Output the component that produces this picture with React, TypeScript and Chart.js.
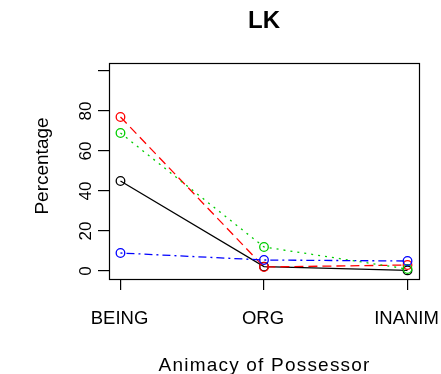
import React, { useEffect, useRef } from "react";
import { Chart, registerables } from "chart.js";

Chart.register(...registerables);

const categories = ["BEING", "ORG", "INANIM"];
const blackSeries = [45, 2.2, 0.3];
const redSeries = [77, 2, 3];
const greenSeries = [69, 12, 1];
const blueSeries = [9, 5.5, 5];
const yTickValues = [0, 20, 40, 60, 80, 100];
const yTickLabels = ["0", "20", "40", "60", "80", ""];
const titleText = "LK";
const xTitle = "Animacy of Possessor";
const yTitle = "Percentage";

const FONT = "'Liberation Sans', Arial, Helvetica, sans-serif";

const textPlugin = {
  id: "rText",
  afterDraw(chart: any) {
    const ctx = chart.ctx as CanvasRenderingContext2D;
    const area = chart.chartArea;
    const xs = chart.scales.x;
    const ys = chart.scales.y;
    ctx.save();
    // box
    ctx.strokeStyle = "#000";
    ctx.lineWidth = 1.2;
    ctx.strokeRect(Math.round(area.left) + 0.5, Math.round(area.top) + 0.5, Math.round(area.right - area.left), Math.round(area.bottom - area.top));
    ctx.fillStyle = "#000";
    // title
    ctx.font = `bold 24px ${FONT}`;
    ctx.textAlign = "center";
    ctx.textBaseline = "alphabetic";
    (ctx as any).letterSpacing = "0px";
    const cx = (area.left + area.right) / 2;
    ctx.fillText(titleText, cx, 28);
    // x tick labels
    ctx.font = `18.5px ${FONT}`;
    categories.forEach((c, i) => {
      ctx.fillText(c, xs.getPixelForValue(i + 1) - 1, 324);
    });
    // x title
    ctx.font = `19px ${FONT}`;
    (ctx as any).letterSpacing = "1.2px";
    ctx.fillText(xTitle, cx + 0.6, 371);
    // y tick labels
    (ctx as any).letterSpacing = "0px";
    ctx.font = `17px ${FONT}`;
    yTickValues.forEach((v, i) => {
      const py = ys.getPixelForValue(v);
      ctx.save();
      ctx.translate(91, py);
      ctx.rotate(-Math.PI / 2);
      ctx.fillText(yTickLabels[i], 0, 0);
      ctx.restore();
    });
    // y title
    ctx.font = `19px ${FONT}`;
    ctx.save();
    ctx.translate(47.5, 166);
    ctx.rotate(-Math.PI / 2);
    ctx.fillText(yTitle, 0, 0);
    ctx.restore();
    ctx.restore();
  },
};

export default function App() {
  const ref = useRef<HTMLCanvasElement | null>(null);
  useEffect(() => {
    document.body.style.margin = "0";
    const canvas = ref.current;
    if (!canvas) return;
    const mk = (arr: number[]) => arr.map((v, i) => ({ x: i + 1, y: v }));
    const ds = (label: string, arr: number[], color: string, dash: number[], order: number) => ({
      label,
      data: mk(arr),
      borderColor: color,
      borderWidth: 1.3,
      borderDash: dash,
      pointRadius: 4.3,
      pointBorderWidth: 1.3,
      pointBorderColor: color,
      pointBackgroundColor: "rgba(0,0,0,0)",
      pointStyle: "circle",
      fill: false,
      tension: 0,
      order,
    });
    const chart = new Chart(canvas, {
      type: "line",
      data: {
        datasets: [
          ds("black", blackSeries, "#000000", [], 3),
          ds("red", redSeries, "#FF0000", [9, 5], 2),
          ds("green", greenSeries, "#00CD00", [2, 5], 1),
          ds("blue", blueSeries, "#0000FF", [2, 4, 8, 4], 0),
        ] as any,
      },
      options: {
        animation: false,
        responsive: false,
        maintainAspectRatio: false,
        devicePixelRatio: 1,
        layout: { padding: { top: 63, right: 22, left: 0, bottom: 0 } },
        plugins: {
          legend: { display: false },
          tooltip: { enabled: false },
          title: { display: false },
        },
        scales: {
          x: {
            type: "linear",
            min: 0.92,
            max: 3.08,
            afterBuildTicks: (s: any) => {
              s.ticks = categories.map((_, i) => ({ value: i + 1 }));
            },
            afterFit: (s: any) => {
              s.height = 95;
            },
            ticks: { display: false },
            border: { display: false },
            grid: {
              display: true,
              drawOnChartArea: false,
              drawTicks: true,
              tickLength: 11,
              color: "#000",
              lineWidth: 1.2,
            },
          },
          y: {
            type: "linear",
            min: -4,
            max: 104,
            afterBuildTicks: (s: any) => {
              s.ticks = yTickValues.map((v) => ({ value: v }));
            },
            afterFit: (s: any) => {
              s.width = 109;
            },
            ticks: { display: false },
            border: { display: false },
            grid: {
              display: true,
              drawOnChartArea: false,
              drawTicks: true,
              tickLength: 11,
              color: "#000",
              lineWidth: 1.2,
            },
          },
        },
      },
      plugins: [textPlugin],
    });
    return () => chart.destroy();
  }, []);
  return (
    <div style={{ width: 441, height: 374, background: "#fff" }}>
      <canvas ref={ref} width={441} height={374} style={{ display: "block" }} />
    </div>
  );
}
